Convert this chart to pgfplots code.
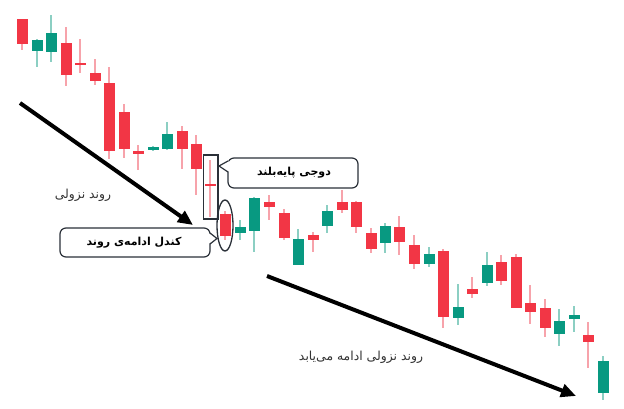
\documentclass[border=0pt]{standalone}
\usepackage{fontspec}
\usepackage{pgfplots}
\usepackage{pgfplotstable}
\pgfplotsset{compat=1.18}
\usetikzlibrary{arrows.meta}
\TeXXeTstate=1
\newfontfamily\arabicfont[Script=Arabic]{DejaVu Sans}
\definecolor{cred}{HTML}{F23645}
\definecolor{cgreen}{HTML}{089981}
\definecolor{wred}{HTML}{F7A3AB}
\definecolor{wgreen}{HTML}{8CCFC3}
\definecolor{outl}{HTML}{2B3139}
\definecolor{txt}{HTML}{333333}

% x = candle position, top/bot = body, hi/lo = wick (pixel rows, top = 0)
\pgfplotstableread{
x    top   bot   hi   lo
22   19    44    19   50
66   43    75    27   86
80   63    65    39   73
95   73    81    59   85
109  83    151   67   159
124  112   149   104  158
138  151   154   145  170
182  131   149   126  169
196  144   169   135  195
210  184.4 185.6 160  217
225  214   236   211  240
269  202   207   195  220
284  213   238   209  240
313  235   240   232  252
342  202   210   190  213
356  202   227   201  233
371  233   249   228  253
399  227   242   216  255
414  245   264   235  269
443  251   317   249  328
472  289   294   277  298
501  262   281   255  285
516  257   308   254  308
530  303   312   285  324
545  308   328   299  337
588  335   342   322  368
}\redtab

\pgfplotstableread{
x    top   bot   hi   lo
37   40    51    39   67
51   33    52    15   62
153  147   150   146  151
167  134   149   122  150
240  227   233   220  240
254  198   231   197  252
298  239   265   229  265
327  211   226   205  233
385  226   243   223  253
429  254   264   247  267
458  307   318   284  325
487  265   283   252  286
559  321   334   309  346
574  315   319   306  332
603  361   393   356  400
}\greentab

\pgfplotsset{
  candle/.style n args={2}{draw=none, mark=none, forget plot,
    error bars/.cd, y dir=both, y explicit, error mark=none,
    error mark options={draw=none, fill=none},
    error bar style={line width=#1, draw=#2, mark=none}},
}

\begin{document}
\begin{tikzpicture}
\useasboundingbox (0,0) rectangle (624pt,409pt);
\fill[white] (0,0) rectangle (624pt,409pt);
\begin{axis}[
  at={(0,0)}, anchor=south west,
  scale only axis, width=624pt, height=409pt,
  xmin=0, xmax=624, ymin=0, ymax=409,
  y dir=reverse, hide axis, clip=false,
]
% wicks
\addplot[candle={1.2pt}{wred}]
  table[x=x, y expr=(\thisrow{hi}+\thisrow{lo})/2, y error expr=(\thisrow{lo}-\thisrow{hi})/2] {\redtab};
\addplot[candle={1.2pt}{wgreen}]
  table[x=x, y expr=(\thisrow{hi}+\thisrow{lo})/2, y error expr=(\thisrow{lo}-\thisrow{hi})/2] {\greentab};
% bodies
\addplot[candle={11pt}{cred}]
  table[x=x, y expr=(\thisrow{top}+\thisrow{bot})/2, y error expr=(\thisrow{bot}-\thisrow{top})/2] {\redtab};
\addplot[candle={11pt}{cgreen}]
  table[x=x, y expr=(\thisrow{top}+\thisrow{bot})/2, y error expr=(\thisrow{bot}-\thisrow{top})/2] {\greentab};

% trend arrows
\addplot[black, line width=4pt, -{Triangle[length=15pt,width=13pt]}] coordinates {(20,103) (193,225)};
\addplot[black, line width=4pt, -{Triangle[length=15pt,width=13pt]}] coordinates {(267,276) (576,396)};

% doji box and ellipse
\draw[outl, line width=1.2pt] (axis cs:203.5,155) rectangle (axis cs:218,219);
\draw[outl, line width=1.3pt] (axis cs:225,225.5) ellipse [x radius=8pt, y radius=25.5pt];

% callout 1
\draw[outl, line width=1.2pt, rounded corners=6pt, fill=white] (axis cs:60,228) rectangle (axis cs:210,257);
\fill[white] (axis cs:208.5,233) -- (axis cs:217,238.5) -- (axis cs:208.5,244) -- cycle;
\draw[outl, line width=1.2pt] (axis cs:210,233) -- (axis cs:217,238.5) -- (axis cs:210,244);
\node[font=\arabicfont\bfseries\fontsize{11}{13}\selectfont, text=black] at (axis cs:134,243) {\beginR کندل ادامه^^^^200cی روند\endR};

% callout 2
\draw[outl, line width=1.2pt, rounded corners=6pt, fill=white] (axis cs:228,158) rectangle (axis cs:358,188);
\fill[white] (axis cs:229.5,161) -- (axis cs:219,166) -- (axis cs:229.5,172) -- cycle;
\draw[outl, line width=1.2pt] (axis cs:228,161) -- (axis cs:219,166) -- (axis cs:228,172);
\node[font=\arabicfont\bfseries\fontsize{11}{13}\selectfont, text=black] at (axis cs:294,173) {\beginR دوجی پایه^^^^200cبلند\endR};

% labels
\node[font=\arabicfont\fontsize{12.4}{14}\selectfont, text=txt] at (axis cs:83,195) {\beginR روند نزولی\endR};
\node[font=\arabicfont\fontsize{12.4}{14}\selectfont, text=txt] at (axis cs:361,357) {\beginR روند نزولی ادامه می^^^^200cیابد\endR};
\end{axis}
\end{tikzpicture}
\end{document}
